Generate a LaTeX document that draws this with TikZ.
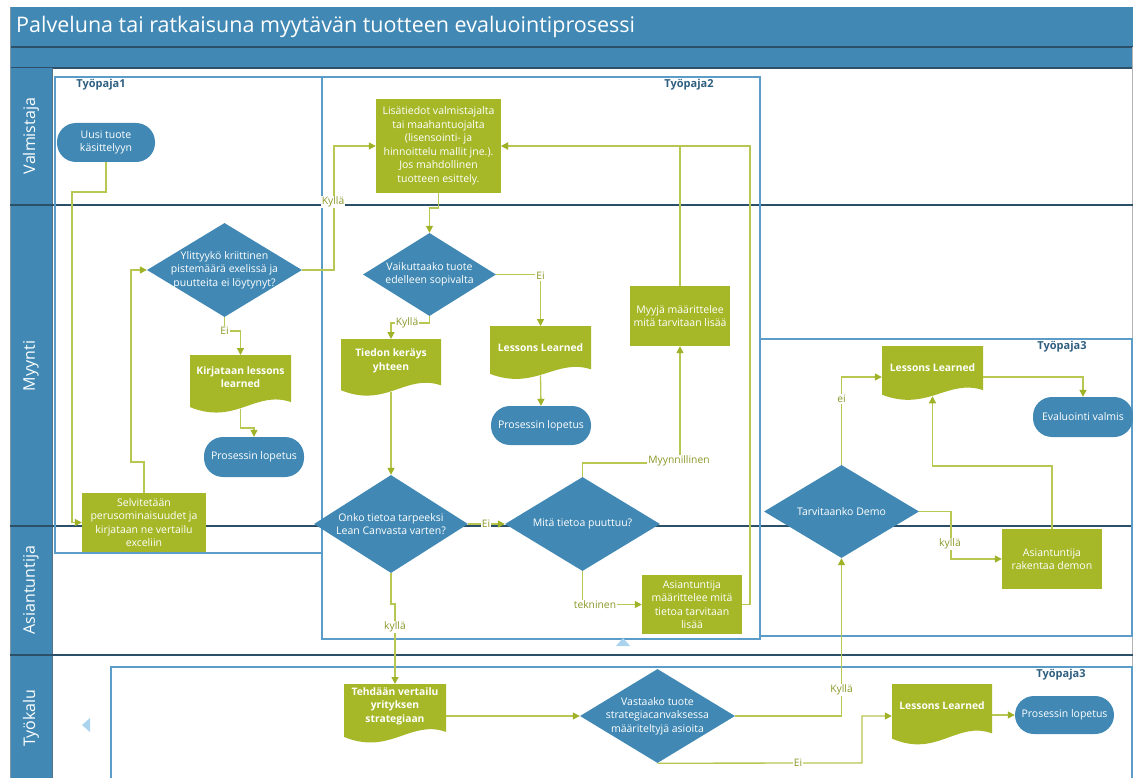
\documentclass[tikz,border=0pt]{standalone}
\usepackage{fontspec}
\setmainfont{Open Sans}
\usetikzlibrary{shapes.geometric,arrows.meta,calc}
\definecolor{bluef}{RGB}{65,137,180}
\definecolor{greenf}{RGB}{166,184,40}
\definecolor{conn}{RGB}{184,198,82}
\definecolor{arrowc}{RGB}{160,178,40}
\definecolor{lblc}{RGB}{138,152,40}
\definecolor{contc}{RGB}{92,156,200}
\definecolor{contlbl}{RGB}{47,95,128}
\definecolor{lanesep}{RGB}{45,80,105}
\definecolor{handlec}{RGB}{170,212,238}

\newcommand\docnode[6]{%
  \pgfmathsetmacro\docXL{#2-#4/2}%
  \pgfmathsetmacro\docXR{#2+#4/2}%
  \pgfmathsetmacro\docYL{#3+0.84*#5}%
  \pgfmathsetmacro\docYR{#3+0.76*#5}%
  \pgfmathsetmacro\docYC{#3+1.14*#5}%
  \pgfmathsetmacro\docYD{#3+0.56*#5}%
  \pgfmathsetmacro\docCL{#2-0.05*#4}%
  \pgfmathsetmacro\docCR{#2+0.15*#4}%
  \pgfmathsetmacro\docH{0.86*#5}%
  \fill[greenf] (\docXL,#3) -- (\docXR,#3) -- (\docXR,\docYR) .. controls (\docCR,\docYD) and (\docCL,\docYC) .. (\docXL,\docYL) -- cycle;
  \node[anchor=north, minimum width=#4pt, minimum height=\docH pt, inner sep=0pt] (#1) at (#2,#3) {};
  \node[btxt] (#1-t) at (#2,#3+22) {#6};
}
\newcommand\decision[6]{%
  \node[dia, minimum width=#4pt, minimum height=#5pt] (#1) at (#2,#3) {};
  \node[txt] (#1-t) at (#2,#3) {#6};
}

\begin{document}
\begin{tikzpicture}[x=1pt,y=-1pt,
  txt/.style={text=white, align=center, inner sep=0pt, font=\fontsize{10.5}{13.5}\selectfont},
  btxt/.style={txt, font=\fontsize{10.3}{13.5}\selectfont\bfseries},
  proc/.style={fill=greenf, inner sep=0pt, text=white, align=center, font=\fontsize{10.5}{13.5}\selectfont},
  term/.style={fill=bluef, rounded corners=19pt, inner sep=0pt, text=white, align=center, font=\fontsize{10.5}{13.5}\selectfont},
  dia/.style={diamond, fill=bluef, inner sep=0pt},
  flow/.style={draw=conn, line width=1.3pt, -{Triangle[length=7pt,width=7pt,color=arrowc]}},
  lbl/.style={font=\fontsize{10.3}{12}\selectfont, text=lblc, fill=white, inner sep=1pt},
  cont/.style={draw=contc, line width=1.6pt},
  contlabel/.style={font=\fontsize{11}{13}\selectfont\bfseries, text=contlbl, inner sep=0pt},
  lane/.style={font=\fontsize{16}{19}\selectfont, text=white, inner sep=0pt, rotate=90},
  sep/.style={draw=lanesep, line width=1.2pt}
]
\clip (0,0) rectangle (1133,778);
\fill[white] (0,0) rectangle (1133,778);

% title and header bars
\fill[bluef] (10,7) rectangle (1133,68);
\draw[sep] (10,47) -- (1133,47);
\draw[sep] (10,68) -- (1133,68);
\node[anchor=west, text=white, inner sep=0pt, font=\fontsize{21.5}{25}\selectfont] (title) at (16,27) {Palveluna tai ratkaisuna myytävän tuotteen evaluointiprosessi};

% lane header column
\fill[bluef] (10,68) rectangle (52,778);
\draw[draw=lanesep!80, line width=1pt] (52,68) -- (52,778);
\draw[draw=lanesep!60, line width=0.8pt] (10,7) -- (10,778);
\draw[draw=gray!60, line width=0.8pt] (1132,47) -- (1132,778);

% lane separators
\draw[sep] (10,205) -- (1133,205);
\draw[sep] (10,526) -- (1133,526);
\draw[sep] (10,655) -- (1133,655);

\node[lane] (lvalm) at (31,136) {Valmistaja};
\node[lane] (lmyyn) at (31,366) {Myynti};
\node[lane] (lasia) at (31,590) {Asiantuntija};
\node[lane] (ltyok) at (31,718) {Työkalu};

% containers
\draw[cont] (55,77) rectangle (322,553);
\draw[cont] (322,77) rectangle (760,639);
\draw[cont] (760,339) rectangle (1132,636);
\draw[cont] (111,667) rectangle (1132,800);
\node[contlabel] (tp1) at (101,85) {Työpaja1};
\node[contlabel] (tp2) at (689,85) {Työpaja2};
\node[contlabel] (tp3a) at (1062,347) {Työpaja3};
\node[contlabel] (tp3b) at (1061,675) {Työpaja3};

% container handles
\fill[handlec] (616,646) -- (630,646) -- (623,638) -- cycle;
\fill[handlec] (90,718) -- (90,732) -- (82,725) -- cycle;

% shapes
\node[term, minimum width=98pt, minimum height=39pt] (uusi) at (106,142.5) {Uusi tuote\\käsittelyyn};
\node[proc, minimum width=125pt, minimum height=94pt] (lisa) at (438.5,146) {Lisätiedot valmistajalta\\tai maahantuojalta\\(lisensointi- ja\\hinnoittelu mallit jne.).\\Jos mahdollinen\\tuotteen esittely.};
\decision{ylit}{224.5}{270}{155}{94}{Ylittyykö kriittinen\\pistemäärä exelissä ja\\puutteita ei löytynyt?}
\docnode{kirj}{240.5}{355}{101}{62}{Kirjataan lessons\\learned}
\node[term, minimum width=100pt, minimum height=40pt] (lop1) at (254,457) {Prosessin lopetus};
\node[proc, minimum width=124pt, minimum height=59pt] (selv) at (144,522.5) {Selvitetään\\perusominaisuudet ja\\kirjataan ne vertailu\\exceliin};
\decision{vaik}{429.5}{274.5}{133}{83}{Vaikuttaako tuote\\edelleen sopivalta}
\docnode{tied}{391}{339}{100}{61}{Tiedon keräys\\yhteen}
\docnode{less1}{540.5}{326}{101}{57}{Lessons Learned}
\node[term, minimum width=100pt, minimum height=39pt] (lop2) at (541,425.5) {Prosessin lopetus};
\node[proc, minimum width=100pt, minimum height=60pt] (myyja) at (680,316) {Myyjä määrittelee\\mitä tarvitaan lisää};
\decision{onko}{391}{524}{154}{98}{Onko tietoa tarpeeksi\\Lean Canvasta varten?}
\decision{mita}{582.5}{524}{155}{94}{Mitä tietoa puuttuu?}
\node[proc, minimum width=100pt, minimum height=59pt] (asi1) at (692,604.5) {Asiantuntija\\määrittelee mitä\\tietoa tarvitaan\\lisää};
\docnode{less2}{932.5}{346}{101}{58}{Lessons Learned}
\node[term, minimum width=100pt, minimum height=40pt] (eval) at (1083,417) {Evaluointi valmis};
\decision{tarv}{841.5}{511.5}{155}{93}{Tarvitaanko Demo}
\node[proc, minimum width=100pt, minimum height=60pt] (asi2) at (1052,559) {Asiantuntija\\rakentaa demon};
\docnode{tehd}{395}{684}{102}{63}{Tehdään vertailu\\yrityksen\\strategiaan}
\decision{vast}{657.5}{716}{155}{94}{Vastaako tuote\\strategiacanvaksessa\\määriteltyjä asioita}
\docnode{less3}{942}{684}{100}{65}{Lessons Learned}
\node[term, minimum width=99pt, minimum height=38pt] (lop3) at (1064.5,715) {Prosessin lopetus};

% connectors
\draw[flow] (uusi.south) -- (106,192) -- (72,192) -- (72,522.5) -- (selv.west);
\draw[flow] (selv.north) -- (144,462) -- (131,462) -- (131,270) -- (ylit.west);
\draw[flow] (ylit.east) -- (334,270) -- (334,146) -- (lisa.west);
\node[lbl] (lk1) at (333,202) {Kyllä};
\draw[flow] (ylit.south) -- (224.5,331) -- (240.5,331) -- (kirj.north);
\node[lbl] (le1) at (224.5,331) {Ei};
\draw[flow] (kirj.south) -- (240.5,428) -- (254,428) -- (lop1.north);
\draw[flow] (lisa.south) -- (438.5,208) -- (429.5,208) -- (vaik.north);
\draw[flow] (vaik.south) -- (429.5,323) -- (391,323) -- (tied.north);
\node[lbl] (lk2) at (407,323) {Kyllä};
\draw[flow] (vaik.east) -- (540.5,274.5) -- (less1.north);
\node[lbl] (le2) at (540.5,276) {Ei};
\draw[flow] (less1.south) -- (lop2.north);
\draw[flow] (tied.south) -- (onko.north);
\draw[flow] (onko.east) -- (mita.west);
\node[lbl] (le3) at (486,524) {Ei};
\draw[flow] (mita.north) -- (582.5,463) -- (680,463) -- (myyja.south);
\node[lbl] (lmy) at (679,461) {Myynnillinen};
\draw[flow] (myyja.north) -- (680,146) -- (lisa.east);
\draw[flow] (mita.south) -- (582.5,604.5) -- (asi1.west);
\node[lbl] (ltek) at (595,604.5) {tekninen};
\draw[flow] (asi1.east) -- (750,604.5) -- (750,146) -- (lisa.east);
\draw[flow] (onko.south) -- (391,604) -- (395,604) -- (tehd.north);
\node[lbl] (lk3) at (395,627) {kyllä};
\draw[flow] (tehd.east |- vast.west) -- (vast.west);
\draw[flow] (vast.east) -- (841.5,716) -- (tarv.south);
\node[lbl] (lk4) at (841.5,690) {Kyllä};
\draw[flow] (vast.south) -- (862,763) -- (862,716) -- (less3.west |- vast.west);
\node[lbl] (le4) at (798,763) {Ei};
\draw[flow] (less3.east |- lop3.west) -- (lop3.west);
\draw[flow] (tarv.north) -- (841.5,377) -- (less2.west |- 0,377);
\node[lbl] (le5) at (841.5,399) {ei};
\draw[flow] (tarv.east) -- (951,511.5) -- (951,559) -- (asi2.west);
\node[lbl] (lk5) at (950,544) {kyllä};
\draw[flow] (asi2.north) -- (1052,466) -- (932.5,466) -- (less2.south);
\draw[flow] (less2.east |- 0,377) -- (1083,377) -- (eval.north);
\end{tikzpicture}
\end{document}
